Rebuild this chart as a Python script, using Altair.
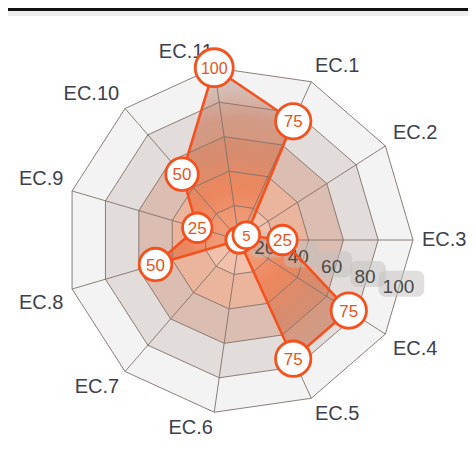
import math
import altair as alt
import pandas as pd

# ---------------- data ----------------
categories = ["EC.1", "EC.2", "EC.3", "EC.4", "EC.5", "EC.6",
              "EC.7", "EC.8", "EC.9", "EC.10", "EC.11"]
values = [75, 5, 25, 75, 75, 0, 0, 50, 25, 50, 100]
levels = [20, 40, 60, 80, 100]
tick_labels = ["20", "40", "60", "80", "100"]

# ---------------- geometry / style ----------------
W, H = 460, 449          # chart size in px
CX, CY = 231, 232        # centre of radar in px
K = 1.74                 # px per value unit (100 -> 174 px)
N = len(categories)
STEP = 360.0 / N

band_colors = {100: "#f4f3f3", 80: "#e2dcda", 60: "#dcbdb1", 40: "#eab49d", 20: "#f1c1ab"}
ORANGE = "#f4511e"


def ang(i):
    return math.radians((2 - i) * STEP)


X_DOM = [-CX / K, (W - CX) / K]
Y_DOM = [-(H - CY) / K, CY / K]
xs = alt.Scale(domain=X_DOM, nice=False, zero=False)
ys = alt.Scale(domain=Y_DOM, nice=False, zero=False)


def X(f):
    return alt.X(f, type="quantitative", scale=xs, axis=None)


def Y(f):
    return alt.Y(f, type="quantitative", scale=ys, axis=None)


def ring_df(r):
    rows = []
    for o in range(N + 1):
        j = o % N
        rows.append({"x": r * math.cos(ang(j)), "y": r * math.sin(ang(j)), "o": o, "lv": r})
    return pd.DataFrame(rows)


layers = []

# band fills (largest first)
for lv in reversed(levels):
    layers.append(
        alt.Chart(ring_df(lv)).mark_line(fill=band_colors[lv], stroke="transparent", strokeWidth=0)
        .encode(x=X("x"), y=Y("y"), order=alt.Order("o:Q"))
    )

# data polygon
pts = []
for i, (c, v) in enumerate(zip(categories, values)):
    pts.append({"cat": c, "v": v, "x": v * math.cos(ang(i)), "y": v * math.sin(ang(i)), "o": i})
data_df = pd.DataFrame(pts)
closed_df = pd.concat([data_df, data_df.iloc[[0]].assign(o=N)], ignore_index=True)

xmin, xmax = data_df["x"].min(), data_df["x"].max()
ymin, ymax = data_df["y"].min(), data_df["y"].max()
S = max(xmax - xmin, ymax - ymin)
gx = 0.5 + (0 - (xmin + xmax) / 2) / S
gy = 0.5 + ((ymin + ymax) / 2) / S
gr = 100 / S

grad = alt.RadialGradient(
    gradient="radial",
    x1=gx, y1=gy, r1=0, x2=gx, y2=gy, r2=gr,
    stops=[
        alt.GradientStop(color="#f08b62", offset=0),
        alt.GradientStop(color="#f08b62", offset=0.1),
        alt.GradientStop(color="#ed7444", offset=0.3),
        alt.GradientStop(color="#d57751", offset=0.5),
        alt.GradientStop(color="#cb7f63", offset=0.7),
        alt.GradientStop(color="#c6ada4", offset=0.9),
        alt.GradientStop(color="#c4afa8", offset=1),
    ],
)
layers.append(
    alt.Chart(closed_df).mark_line(fill=grad, fillOpacity=0.7, stroke="transparent", strokeWidth=0)
    .encode(x=X("x"), y=Y("y"), order=alt.Order("o:Q"))
)

# grid polygons
grid_df = pd.concat([ring_df(lv) for lv in levels], ignore_index=True)
layers.append(
    alt.Chart(grid_df).mark_line(stroke="#807069", strokeWidth=0.9)
    .encode(x=X("x"), y=Y("y"), order=alt.Order("o:Q"), detail="lv:N")
)

# spokes
spk = pd.DataFrame([{"x": 0.0, "y": 0.0,
                     "x2": 100 * math.cos(ang(i)), "y2": 100 * math.sin(ang(i))} for i in range(N)])
layers.append(
    alt.Chart(spk).mark_rule(stroke="#807069", strokeWidth=0.9)
    .encode(x=X("x"), y=Y("y"), x2="x2:Q", y2="y2:Q")
)

# tick labels on bisector between EC.3 and EC.4
ba = math.radians(-STEP / 2)
trows = []
for v, lab in zip(levels, tick_labels):
    r = v - 4.5
    tx, ty = r * math.cos(ba), r * math.sin(ba)
    hw = (len(lab) * 0.556 * 19 + 14) / 2 / K
    hh = 13 / K
    bx, by = tx + 3 / K, ty + 3 / K
    trows.append({"lab": lab, "x": tx, "y": ty,
                  "bx1": bx - hw, "bx2": bx + hw, "by1": by - hh, "by2": by + hh})
tdf = pd.DataFrame(trows)
layers.append(
    alt.Chart(tdf).mark_rect(cornerRadius=7, fill="#c2c0be", opacity=0.5)
    .encode(x=X("bx1"), x2="bx2:Q", y=Y("by1"), y2="by2:Q")
)
layers.append(
    alt.Chart(tdf).mark_text(font="Liberation Sans", fontSize=19, color="#4a4a4a",
                             align="center", baseline="middle")
    .encode(x=X("x"), y=Y("y"), text="lab:N")
)

# data outline
layers.append(
    alt.Chart(closed_df).mark_line(color=ORANGE, strokeWidth=2.6)
    .encode(x=X("x"), y=Y("y"), order=alt.Order("o:Q"))
)

# category labels
groups = {}
for i, c in enumerate(categories):
    a = ang(i)
    ca, sa = math.cos(a), math.sin(a)
    vx, vy = 100 * ca, 100 * sa
    lx = vx + 9 * ca / K
    if abs(ca) < 0.2:
        align = "right" if ca < 0 else "left"
    else:
        align = "left" if ca > 0 else "right"
    if abs(sa) < 0.1:
        base = "middle"
        ly = vy
    elif sa > 0:
        base = "alphabetic"
        ly = vy + (4 + 6 * sa) / K
    else:
        base = "top"
        ly = vy - (3 + 3 * abs(sa)) / K
    groups.setdefault((align, base), []).append({"cat": c, "x": lx, "y": ly})
for (align, base), rows in groups.items():
    layers.append(
        alt.Chart(pd.DataFrame(rows)).mark_text(font="Liberation Sans", fontSize=20, color="#3d414d",
                                                align=align, baseline=base)
        .encode(x=X("x"), y=Y("y"), text="cat:N")
    )

# markers
mk = data_df.sort_values("v", kind="stable")
layers.append(
    alt.Chart(mk).mark_point(shape="circle", filled=True, fill="white", stroke=ORANGE,
                             strokeWidth=2.8, opacity=1, fillOpacity=1)
    .encode(x=X("x"), y=Y("y"),
            size=alt.Size("v:Q", scale=alt.Scale(domain=[0, 100], range=[676, 1444]), legend=None))
)
layers.append(
    alt.Chart(mk).transform_filter("datum.v > 0")
    .transform_calculate(fs="datum.v >= 100 ? 16 : (datum.v < 10 ? 15 : 17)", t="'' + datum.v")
    .mark_text(font="Liberation Sans", color="#e9531d", align="center", baseline="middle", dy=1)
    .encode(x=X("x"), y=Y("y"), text="t:N", size=alt.Size("fs:Q", scale=None))
)

# top frame line
one = pd.DataFrame({"a": [0]})
layers.append(
    alt.Chart(one).mark_rule(color="#e4e4e4", strokeWidth=5, opacity=0.7)
    .encode(x=alt.value(0), x2=alt.value(W), y=alt.value(5.5))
)
layers.append(
    alt.Chart(one).mark_rule(color="#111111", strokeWidth=3)
    .encode(x=alt.value(0), x2=alt.value(W), y=alt.value(1.5))
)

chart = (
    alt.layer(*layers)
    .resolve_scale(size="independent")
    .properties(width=W, height=H, padding=0,
                autosize=alt.AutoSizeParams(type="none"), background="white")
    .configure_view(stroke=None)
)

chart.save("out.html", embed_options={"renderer": "svg", "actions": False})
